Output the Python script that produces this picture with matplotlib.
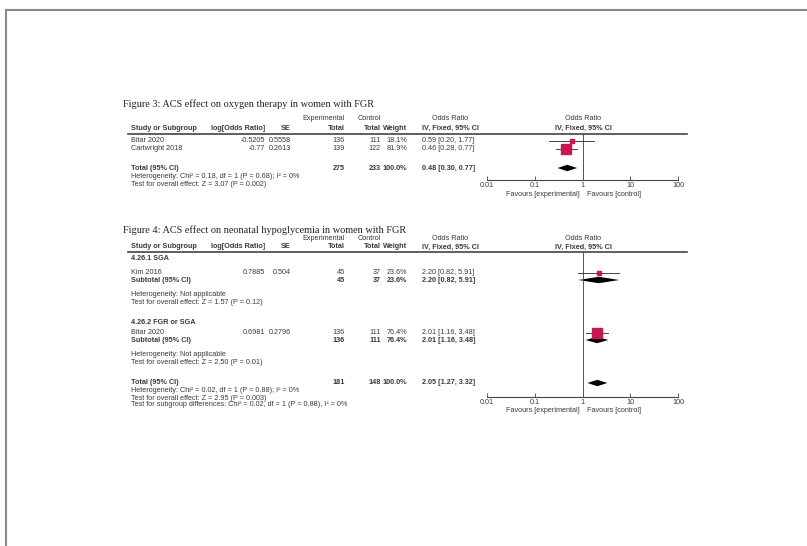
import numpy as np
import matplotlib
matplotlib.use('Agg')
import matplotlib.pyplot as plt
from matplotlib.lines import Line2D

# ---- data, figure 3 (oxygen therapy) ----
f3_study = ['Bitar 2020', 'Cartwright 2018']
f3_logor = [-0.5205, -0.77]
f3_se = [0.5558, 0.2613]
f3_exp = [136, 139]
f3_ctl = [111, 122]
f3_weight = [18.1, 81.9]
f3_or = [0.59, 0.46]
f3_lo = [0.20, 0.28]
f3_hi = [1.77, 0.77]
f3_total = dict(exp=275, ctl=233, w=100.0, est=0.48, lo=0.30, hi=0.77)
f3_het = 'Heterogeneity: Chi\u00b2 = 0.18, df = 1 (P = 0.68); I\u00b2 = 0%'
f3_test = 'Test for overall effect: Z = 3.07 (P = 0.002)'

# ---- data, figure 4 (neonatal hypoglycemia) ----
f4_groups = ['4.26.1 SGA', '4.26.2 FGR or SGA']
f4_study = ['Kim 2016', 'Bitar 2020']
f4_logor = [0.7885, 0.6981]
f4_se = [0.504, 0.2796]
f4_exp = [45, 136]
f4_ctl = [37, 111]
f4_weight = [23.6, 76.4]
f4_or = [2.20, 2.01]
f4_lo = [0.82, 1.16]
f4_hi = [5.91, 3.48]
f4_sub_het = ['Heterogeneity: Not applicable', 'Heterogeneity: Not applicable']
f4_sub_test = ['Test for overall effect: Z = 1.57 (P = 0.12)',
               'Test for overall effect: Z = 2.50 (P = 0.01)']
f4_total = dict(exp=181, ctl=148, w=100.0, est=2.05, lo=1.27, hi=3.32)
f4_het = 'Heterogeneity: Chi\u00b2 = 0.02, df = 1 (P = 0.88); I\u00b2 = 0%'
f4_test = 'Test for overall effect: Z = 2.95 (P = 0.003)'
f4_diff = 'Test for subgroup differences: Chi\u00b2 = 0.02, df = 1 (P = 0.88), I\u00b2 = 0%'

ticks = [0.01, 0.1, 1, 10, 100]
tick_labels = ['0.01', '0.1', '1', '10', '100']

W, H = 807, 546
FS = 5.2
TXT = '#3a3a3a'
SQ = '#c8174c'

fig = plt.figure(figsize=(W / 100, H / 100), dpi=100)


def fx(x):
    return x / W


def fy(y):
    return 1 - y / H


def put(x, y, s, ha='left', bold=False, size=FS, family='Liberation Sans', color=TXT):
    fig.text(fx(x), fy(y), s, ha=ha, va='center', fontsize=size, family=family,
             fontweight='bold' if bold else 'normal', color=color)


def hline(x0, x1, y, lw=1.0, color='#444444'):
    fig.add_artist(Line2D([fx(x0), fx(x1)], [fy(y), fy(y)], lw=lw, color=color))


def ci_text(est, lo, hi):
    return f'{est:.2f} [{lo:.2f}, {hi:.2f}]'


# column positions
X_STUDY, X_LOG, X_SE, X_EXP, X_CTL, X_W, X_OR = 131, 265, 291, 345, 381, 407, 422
X_L, X_R = 487, 678


def header(y_title, y1, y2, y_line, title):
    put(123, y_title, title, size=7.4, family='Liberation Serif', color='#222222')
    put(X_EXP, y1, 'Experimental', ha='right')
    put(X_CTL, y1, 'Control', ha='right')
    put(450, y1, 'Odds Ratio', ha='center')
    put(583, y1, 'Odds Ratio', ha='center')
    put(X_STUDY, y2, 'Study or Subgroup', bold=True)
    put(X_LOG, y2, 'log[Odds Ratio]', ha='right', bold=True)
    put(X_SE, y2, 'SE', ha='right', bold=True)
    put(X_EXP, y2, 'Total', ha='right', bold=True)
    put(X_CTL, y2, 'Total', ha='right', bold=True)
    put(X_W, y2, 'Weight', ha='right', bold=True)
    put(X_OR, y2, 'IV, Fixed, 95% CI', bold=True)
    put(583, y2, 'IV, Fixed, 95% CI', ha='center', bold=True)
    hline(128, 687, y_line, lw=1.2)


def study_row(y, name, lg, se, ne, nc, w, est, lo, hi):
    put(X_STUDY, y, name)
    put(X_LOG, y, f'{lg:g}', ha='right')
    put(X_SE, y, f'{se:g}', ha='right')
    put(X_EXP, y, str(ne), ha='right')
    put(X_CTL, y, str(nc), ha='right')
    put(X_W, y, f'{w:.1f}%', ha='right')
    put(X_OR, y, ci_text(est, lo, hi))


def total_row(y, label, t):
    put(X_STUDY, y, label, bold=True)
    put(X_EXP, y, str(t['exp']), ha='right', bold=True)
    put(X_CTL, y, str(t['ctl']), ha='right', bold=True)
    put(X_W, y, f"{t['w']:.1f}%", ha='right', bold=True)
    put(X_OR, y, ci_text(t['est'], t['lo'], t['hi']), bold=True)


def forest_axes(y_top, y_axis):
    ax = fig.add_axes([fx(X_L), fy(y_axis), (X_R - X_L) / W, (y_axis - y_top) / H])
    ax.set_xscale('log')
    ax.set_xlim(0.01, 100)
    ax.set_ylim(y_axis, y_top)
    ax.patch.set_alpha(0)
    for s in ['top', 'left', 'right']:
        ax.spines[s].set_visible(False)
    ax.spines['bottom'].set_linewidth(0.8)
    ax.spines['bottom'].set_color('#444444')
    ax.set_yticks([])
    ax.set_xticks(ticks)
    ax.set_xticklabels(tick_labels, fontsize=FS, family='Liberation Sans', color=TXT)
    ax.xaxis.set_minor_locator(matplotlib.ticker.NullLocator())
    ax.tick_params(axis='x', direction='in', length=3, width=0.6, pad=1.5, color='#444444')
    ax.axvline(1, color='#555555', lw=0.7)
    put(580, y_axis + 14, 'Favours [experimental]', ha='right')
    put(587, y_axis + 14, 'Favours [control]')
    return ax


def square(ax, y, est, lo, hi, w):
    ax.plot([lo, hi], [y, y], color='#222222', lw=0.6)
    side = 11 * (w / 100) ** 0.7 / 1.389
    ax.plot([est], [y], marker='s', ms=side, color=SQ, mec=SQ, lw=0)


def diamond(ax, y, est, lo, hi, h=3.2):
    ax.fill([lo, est, hi, est], [y, y - h, y, y + h], color='black', lw=0)


# page frame (scanned document edge)
fig.add_artist(Line2D([fx(6), 1], [fy(10), fy(10)], lw=1.5, color='#8a8a8a'))
fig.add_artist(Line2D([fx(6), fx(6)], [fy(10), 0], lw=1.5, color='#8a8a8a'))

# ---- figure 3 ----
header(104, 119, 128, 134, 'Figure 3: ACS effect on oxygen therapy in women with FGR')
f3_rows = [141, 149]
ax3 = forest_axes(134, 180)
for i, y in enumerate(f3_rows):
    study_row(y, f3_study[i], f3_logor[i], f3_se[i], f3_exp[i], f3_ctl[i],
              f3_weight[i], f3_or[i], f3_lo[i], f3_hi[i])
    square(ax3, y, f3_or[i], f3_lo[i], f3_hi[i], f3_weight[i])
total_row(168, 'Total (95% CI)', f3_total)
diamond(ax3, 168, f3_total['est'], f3_total['lo'], f3_total['hi'])
put(X_STUDY, 177, f3_het)
put(X_STUDY, 184, f3_test)

# ---- figure 4 ----
header(230, 239, 247, 252, 'Figure 4: ACS effect on neonatal hypoglycemia in women with FGR')
ax4 = forest_axes(252, 397)
group_y = [258, 323]
for i, g in enumerate(f4_groups):
    y0 = group_y[i]
    put(X_STUDY, y0, g, bold=True)
    ys = y0 + (15 if i == 0 else 10)
    study_row(ys, f4_study[i], f4_logor[i], f4_se[i], f4_exp[i], f4_ctl[i],
              f4_weight[i], f4_or[i], f4_lo[i], f4_hi[i])
    square(ax4, ys, f4_or[i], f4_lo[i], f4_hi[i], f4_weight[i])
    sub = dict(exp=f4_exp[i], ctl=f4_ctl[i], w=f4_weight[i],
               est=f4_or[i], lo=f4_lo[i], hi=f4_hi[i])
    total_row(ys + 7, 'Subtotal (95% CI)', sub)
    diamond(ax4, ys + 7, f4_or[i], f4_lo[i], f4_hi[i])
    put(X_STUDY, ys + 21, f4_sub_het[i])
    put(X_STUDY, ys + 29, f4_sub_test[i])

total_row(383, 'Total (95% CI)', f4_total)
diamond(ax4, 383, f4_total['est'], f4_total['lo'], f4_total['hi'])
put(X_STUDY, 391, f4_het)
put(X_STUDY, 398, f4_test)
put(X_STUDY, 405, f4_diff)

fig.savefig('out.png', dpi=100, facecolor='white')
